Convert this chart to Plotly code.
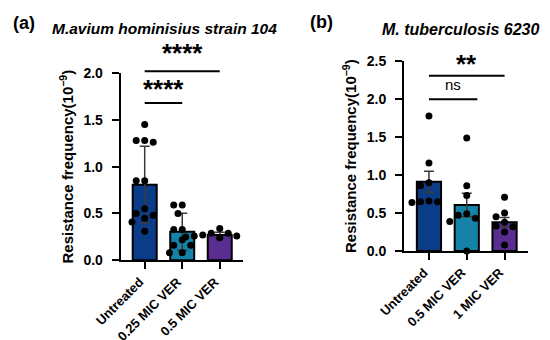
import numpy as np
import plotly.graph_objects as go

# ---------------- data ----------------
cats_a = ["Untreated", "0.25 MIC VER", "0.5 MIC VER"]
untreated_a = [1.45, 1.28, 1.26, 1.28, 0.85, 0.85, 0.55, 0.50, 0.48, 0.45, 0.41, 0.31]
mic025_a = [0.59, 0.59, 0.50, 0.33, 0.33, 0.22, 0.16, 0.16, 0.08, 0.08]
mic05_a = [0.34, 0.29, 0.29, 0.27, 0.26, 0.25, 0.25, 0.24, 0.24, 0.26]

cats_b = ["Untreated", "0.5 MIC VER", "1 MIC VER"]
untreated_b = [1.78, 1.16, 0.90, 0.86, 0.66, 0.65, 0.64, 0.65]
mic05_b = [1.49, 0.86, 0.73, 0.49, 0.47, 0.43, 0.39, 0.0]
mic1_b = [0.71, 0.50, 0.45, 0.38, 0.33, 0.32, 0.25, 0.08]

yticks_a = [0.0, 0.5, 1.0, 1.5, 2.0]
yticks_b = [0.0, 0.5, 1.0, 1.5, 2.0, 2.5]

# ---------------- style / layout ----------------
W, H = 550, 340
colors = ["#0b3c88", "#1583a8", "#5a2d90"]
FONT = "Arial, Liberation Sans, sans-serif"

# pixel geometry of the two panels
A = dict(x0=112.7, x1=235.0, ybot=252.3, ytop=65.0, xr=(-0.64, 2.62), yr=(0, 2.0))
B = dict(x0=396.0, x1=520.0, ybot=243.0, ytop=53.3, xr=(-0.66, 2.62), yr=(0, 2.5))


def dom(p):
    return [p["x0"] / W, p["x1"] / W], [1 - p["ybot"] / H, 1 - p["ytop"] / H]


def swarm(vals, p, d=8.5):
    """Simple beeswarm: offsets in category units so dots don't overlap."""
    pxx = (p["x1"] - p["x0"]) / (p["xr"][1] - p["xr"][0])
    pxy = (p["ybot"] - p["ytop"]) / (p["yr"][1] - p["yr"][0])
    order = np.argsort(-np.asarray(vals), kind="stable")
    placed = []
    offs = np.zeros(len(vals))
    cands = [0.0]
    for k in range(1, 12):
        cands += [-k * d / 2, k * d / 2]
    for i in order:
        y = vals[i] * pxy
        for c in cands:
            if all((c - px) ** 2 + (y - py) ** 2 >= d * d for px, py in placed):
                break
        placed.append((c, y))
        offs[i] = c / pxx
    return offs


def to_paper(p, xc, v):
    xf = (xc - p["xr"][0]) / (p["xr"][1] - p["xr"][0])
    xpx = p["x0"] + xf * (p["x1"] - p["x0"])
    ypx = p["ybot"] - (v - p["yr"][0]) / (p["yr"][1] - p["yr"][0]) * (p["ybot"] - p["ytop"])
    return xpx / W, 1 - ypx / H


fig = go.Figure()

panels = [
    (A, cats_a, [untreated_a, mic025_a, mic05_a], "sd", "x", "y", yticks_a),
    (B, cats_b, [untreated_b, mic05_b, mic1_b], "sem", "x2", "y2", yticks_b),
]

for p, cats, groups, err, xa, ya, yt in panels:
    means = [float(np.mean(g)) for g in groups]
    sds = [float(np.std(g, ddof=1)) for g in groups]
    if err == "sem":
        errs = [s / np.sqrt(len(g)) for s, g in zip(sds, groups)]
    else:
        errs = sds
    fig.add_trace(go.Bar(
        x=[0, 1, 2], y=means, width=0.64, xaxis=xa, yaxis=ya,
        marker=dict(color=colors, line=dict(color="black", width=2)),
        error_y=dict(type="data", array=errs, symmetric=True, color="#3a3a3a",
                     thickness=1.5, width=5),
        showlegend=False, hoverinfo="skip"))
    for i, g in enumerate(groups):
        offs = swarm(g, p)
        fig.add_trace(go.Scatter(
            x=i + offs, y=g, mode="markers", xaxis=xa, yaxis=ya,
            marker=dict(color="black", size=7), cliponaxis=False,
            showlegend=False, hoverinfo="skip"))

xd, yd = dom(A)
xd2, yd2 = dom(B)
common_y = dict(showgrid=False, zeroline=False, showline=True, linecolor="black", linewidth=2,
                ticks="outside", ticklen=7, tickwidth=2, tickcolor="black", automargin=False,
                ticklabelstandoff=6,
                tickfont=dict(family=FONT, size=14, color="black"))
common_x = dict(showgrid=False, zeroline=False, showline=True, linecolor="black", linewidth=2,
                ticks="outside", ticklen=7, tickwidth=2, tickcolor="black", tickangle=-45,
                automargin=False, ticklabelshift=-5,
                tickfont=dict(family=FONT, size=13, color="black"), tickvals=[0, 1, 2])

ytitle = "<b>Resistance frequency(10<sup>−9</sup>)</b>"
fig.update_layout(
    template="none",
    width=W, height=H, margin=dict(l=0, r=0, t=0, b=0, pad=0, autoexpand=False),
    paper_bgcolor="white", plot_bgcolor="white",
    font=dict(family=FONT, color="black"),
    xaxis=dict(domain=xd, range=list(A["xr"]), anchor="y",
               ticktext=["<b>%s</b>" % c for c in cats_a], **common_x),
    yaxis=dict(domain=yd, range=list(A["yr"]), anchor="x", tickvals=yticks_a,
               ticktext=["<b>%.1f</b>" % v for v in yticks_a],
               title=dict(text=ytitle, font=dict(family=FONT, size=15), standoff=6),
               **common_y),
    xaxis2=dict(domain=xd2, range=list(B["xr"]), anchor="y2",
                ticktext=["<b>%s</b>" % c for c in cats_b], **common_x),
    yaxis2=dict(domain=yd2, range=list(B["yr"]), anchor="x2", tickvals=yticks_b,
                ticktext=["<b>%.1f</b>" % v for v in yticks_b],
                title=dict(text=ytitle, font=dict(family=FONT, size=15), standoff=6),
                **common_y),
)

# significance brackets
sig = [
    (A, 0, 1, 1.68, 1.83, "<b>****</b>", 26),
    (A, 0, 2, 2.02, 2.21, "<b>****</b>", 26),
    (B, 0, 1.28, 2.0, 2.19, "ns", 15),
    (B, 0, 2, 2.31, 2.47, "<b>**</b>", 26),
]
for p, xa_, xb_, yl, yt_, txt, fs in sig:
    xp0, yp = to_paper(p, xa_, yl)
    xp1, _ = to_paper(p, xb_, yl)
    fig.add_shape(type="line", xref="paper", yref="paper", x0=xp0, x1=xp1, y0=yp, y1=yp,
                  line=dict(color="black", width=2))
    _, ytp = to_paper(p, 0, yt_)
    fig.add_annotation(xref="paper", yref="paper", x=(xp0 + xp1) / 2, y=ytp, text=txt,
                       showarrow=False, font=dict(family=FONT, size=fs, color="black"),
                       xanchor="center", yanchor="middle")

# panel labels and titles
fig.add_annotation(xref="paper", yref="paper", x=16 / W, y=1 - 15 / H, text="<b>(a)</b>",
                   showarrow=False, font=dict(family=FONT, size=18), xanchor="center", yanchor="middle")
fig.add_annotation(xref="paper", yref="paper", x=156 / W, y=1 - 20 / H,
                   text="<b><i>M.avium hominisius strain 104</i></b>",
                   showarrow=False, font=dict(family=FONT, size=15.5), xanchor="center", yanchor="middle")
fig.add_annotation(xref="paper", yref="paper", x=313 / W, y=1 - 14 / H, text="<b>(b)</b>",
                   showarrow=False, font=dict(family=FONT, size=18), xanchor="center", yanchor="middle")
fig.add_annotation(xref="paper", yref="paper", x=452 / W, y=1 - 21 / H,
                   text="<b><i>M. tuberculosis 6230</i></b>",
                   showarrow=False, font=dict(family=FONT, size=16), xanchor="center", yanchor="middle")

fig.write_html("out.html")
